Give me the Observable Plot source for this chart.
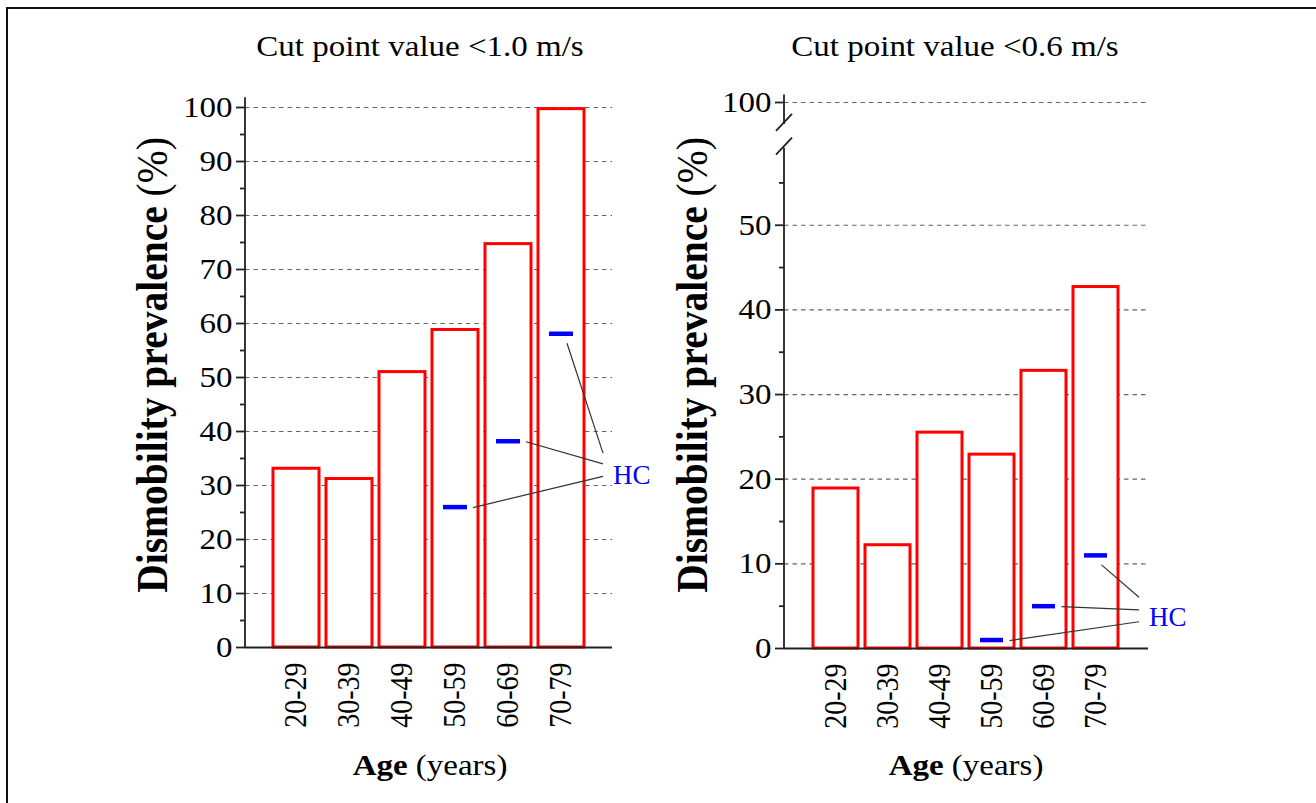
<!DOCTYPE html>
<html>
<head>
<meta charset="utf-8">
<script src="https://cdn.jsdelivr.net/npm/d3@7"></script>
<script src="https://cdn.jsdelivr.net/npm/@observablehq/plot@0.6"></script>
<style>
html, body { margin: 0; padding: 0; background: #fff; }
#stage { position: relative; width: 1316px; height: 803px; overflow: hidden; background: #fff;
  font-family: "Liberation Serif", "Times New Roman", serif; color: #000; }
.panel { position: absolute; top: 0; }
#overlay { position: absolute; left: 0; top: 0; pointer-events: none; }
</style>
</head>
<body>
<div id="stage">
  <div style="position:absolute;left:6px;top:7px;width:1310px;height:2px;background:#111"></div>
  <div style="position:absolute;left:6px;top:7px;width:2px;height:796px;background:#111"></div>
  <div id="left" class="panel" style="left:0px"></div>
  <div id="right" class="panel" style="left:660px"></div>
</div>
<script>
// ---------------- data ----------------
const ages = ["20-29", "30-39", "40-49", "50-59", "60-69", "70-79"];

// Panel 1: cut point value < 1.0 m/s
const prevalence10 = [33.1, 31.2, 51.0, 58.8, 74.7, 99.7];
const hcAges = ["50-59", "60-69", "70-79"];
const hc10 = [26.0, 38.2, 58.1];
const hc10LeaderEnd = [31.6, 33.9, 35.9];
const hc10LabelY = 32.0;
const ticks10 = [0, 10, 20, 30, 40, 50, 60, 70, 80, 90, 100];
const minor10 = [5, 15, 25, 35, 45, 55, 65, 75, 85, 95];

// Panel 2: cut point value < 0.6 m/s (broken axis, 100 shown on top)
const prevalence06 = [18.9, 12.2, 25.5, 22.9, 32.8, 42.7];
const hc06 = [1.0, 5.0, 11.0];
const hc06LeaderEnd = [3.1, 4.5, 6.0];
const hc06LabelY = 3.7;
const ticks06 = [0, 10, 20, 30, 40, 50, 100];
const minor06 = [5, 15, 25, 35, 45, 55];

const titles = ["Cut point value <1.0 m/s", "Cut point value <0.6 m/s"];
const yTitleBold = "Dismobility prevalence ";
const yTitleRest = "(%)";
const xTitleBold = "Age";
const xTitleRest = " (years)";

// ---------------- helpers ----------------
const FONT = "Liberation Serif, Times New Roman, serif";
const STRETCH = 1.1;
const PAD_INNER = 0.13, PAD_OUTER = 0.5;
const identity = v => v;
const brk06 = v => (v > 60 ? v - 35.5 : v); // axis break: 100 drawn just above the lower segment

function axisLineMark(segments, slashes) {
  return (index, scales, values, dims) => {
    const g = d3.create("svg:g").attr("stroke", "#222").attr("stroke-width", 1.8).attr("fill", "none");
    const x0 = dims.marginLeft;
    for (const [a, b] of segments) {
      g.append("line").attr("x1", x0).attr("x2", x0).attr("y1", scales.y(a)).attr("y2", scales.y(b));
    }
    for (const s of slashes) {
      const y = scales.y(s);
      g.append("line").attr("x1", x0 - 8).attr("x2", x0 + 8).attr("y1", y + 8.5).attr("y2", y - 8.5);
    }
    return g.node();
  };
}

function hcMark(vals, ends, labelVal, map) {
  return (index, scales, values, dims) => {
    const g = d3.create("svg:g");
    const sx = scales.x, sy = scales.y;
    const bw = typeof sx.bandwidth === "function" ? sx.bandwidth() : 0;
    const xr = dims.width - dims.marginRight;
    hcAges.forEach((a, i) => {
      const cx = sx(a) + bw / 2;
      const y = sy(map(vals[i]));
      const last = i === hcAges.length - 1;
      const x1 = last ? cx + 6 : cx + 18;
      const y1 = last ? y + 10 : y + 1;
      g.append("line")
        .attr("x1", x1).attr("y1", y1)
        .attr("x2", xr - 9).attr("y2", sy(map(ends[i])))
        .attr("stroke", "#333").attr("stroke-width", 1.2);
    });
    g.append("text")
      .attr("x", xr + 1).attr("y", sy(map(labelVal)))
      .attr("dy", "0.35em")
      .attr("text-anchor", "start")
      .attr("fill", "#0000ff")
      .attr("font-size", 27)
      .attr("font-family", FONT)
      .text("HC");
    return g.node();
  };
}

function stretchAxisText(svg) {
  svg.querySelectorAll("text").forEach(t => {
    const holder = t.closest("[aria-label]");
    const lab = holder ? holder.getAttribute("aria-label") : "";
    let sx = 1, sy = 1;
    if (lab.includes("y-axis")) sx = STRETCH;
    else if (lab.includes("x-axis")) sy = STRETCH;
    else return;
    const tr = t.getAttribute("transform");
    if (tr) {
      t.setAttribute("transform", tr + ` scale(${sx},${sy})`);
    } else {
      const x = +t.getAttribute("x") || 0, y = +t.getAttribute("y") || 0;
      t.setAttribute("transform", `translate(${x},${y}) scale(${sx},${sy}) translate(${-x},${-y})`);
    }
  });
}

function panel(cfg) {
  const rows = ages.map((a, i) => ({age: a, v: cfg.values[i]}));
  const hcRows = hcAges.map((a, i) => ({age: a, v: cfg.hc[i]}));
  const map = cfg.map;
  const mappedTicks = cfg.ticks.map(map);
  const svg = Plot.plot({
    width: cfg.width,
    height: 803,
    marginLeft: cfg.marginLeft,
    marginRight: cfg.marginRight,
    marginTop: cfg.marginTop,
    marginBottom: cfg.marginBottom,
    style: {fontFamily: FONT, background: "transparent", color: "#000", overflow: "visible"},
    x: {domain: ages, paddingInner: PAD_INNER, paddingOuter: PAD_OUTER},
    y: {domain: cfg.yDomain},
    marks: [
      Plot.gridY(cfg.ticks.filter(t => t > 0).map(map), {
        stroke: "#666", strokeOpacity: 1, strokeDasharray: "4.5,4", strokeWidth: 1.2
      }),
      Plot.barY(rows, {x: "age", y: d => map(d.v), fill: "white", stroke: "#ff0000", strokeWidth: 3}),
      Plot.tickY(hcRows, {x: "age", y: d => map(d.v), stroke: "#0000ff", strokeWidth: 4.5, insetLeft: 11, insetRight: 11}),
      Plot.ruleY([0], {stroke: "#222", strokeWidth: 2}),
      Plot.axisY(mappedTicks, {
        tickSize: 9, tickPadding: 4, fontSize: 30, stroke: "#222", strokeWidth: 1.8, label: null,
        tickFormat: d => String(cfg.ticks[mappedTicks.indexOf(d)])
      }),
      Plot.axisY(cfg.minor.map(map), {tickSize: 5, stroke: "#222", strokeWidth: 1.8, label: null, tickFormat: () => ""}),
      Plot.axisX({tickRotate: -90, tickSize: 0, tickPadding: 15, fontSize: 28, label: null}),
      axisLineMark(cfg.segments, cfg.slashes),
      hcMark(cfg.hc, cfg.ends, cfg.labelY, map)
    ]
  });
  stretchAxisText(svg);
  return svg;
}

document.getElementById("left").appendChild(panel({
  values: prevalence10, hc: hc10, ends: hc10LeaderEnd, labelY: hc10LabelY,
  ticks: ticks10, minor: minor10, map: identity, yDomain: [0, 100],
  width: 660, marginLeft: 245, marginRight: 48, marginTop: 107, marginBottom: 156,
  segments: [[0, 101.8]], slashes: []
}));

document.getElementById("right").appendChild(panel({
  values: prevalence06, hc: hc06, ends: hc06LeaderEnd, labelY: hc06LabelY,
  ticks: ticks06, minor: minor06, map: brk06, yDomain: [0, 64.5],
  width: 656, marginLeft: 124, marginRight: 168, marginTop: 102, marginBottom: 155,
  segments: [[0, 59.1], [61.9, 65.4]], slashes: [59.3, 62.1]
}));

// ---------------- titles & axis titles (text overlay) ----------------
const overlay = d3.select("#stage").append("svg")
  .attr("id", "overlay").attr("width", 1316).attr("height", 803)
  .style("font-family", FONT);

const panelsText = [
  {title: titles[0], tx: 420, yx: 167, xx: 430},
  {title: titles[1], tx: 955, yx: 707, xx: 966}
];
for (const p of panelsText) {
  overlay.append("text")
    .attr("transform", `translate(${p.tx},56) scale(${STRETCH},1)`)
    .attr("text-anchor", "middle").attr("font-size", 30).attr("fill", "#000")
    .text(p.title);
  const yl = overlay.append("text")
    .attr("transform", `translate(${p.yx},365) rotate(-90) scale(1,${STRETCH})`)
    .attr("text-anchor", "middle").attr("font-size", 39.5).attr("fill", "#000");
  yl.append("tspan").attr("font-weight", "bold").text(yTitleBold);
  yl.append("tspan").text(yTitleRest);
  const xl = overlay.append("text")
    .attr("transform", `translate(${p.xx},775) scale(${STRETCH},1)`)
    .attr("text-anchor", "middle").attr("font-size", 30).attr("fill", "#000");
  xl.append("tspan").attr("font-weight", "bold").text(xTitleBold);
  xl.append("tspan").text(xTitleRest);
}
</script>
</body>
</html>
